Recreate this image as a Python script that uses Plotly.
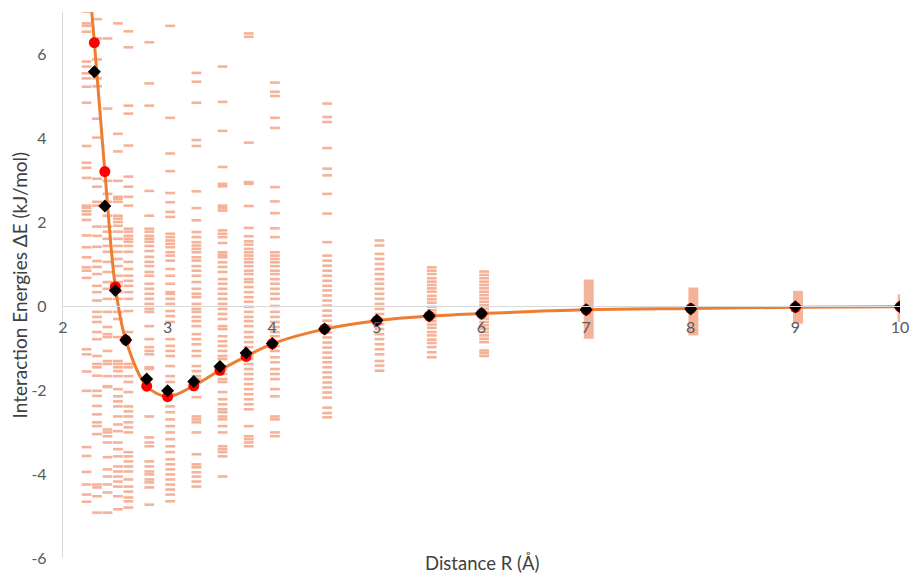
import plotly.graph_objects as go

# ---- data ----
dist_points = [2.3, 2.4, 2.5, 2.6, 2.8, 3.0, 3.25, 3.5, 3.75, 4.0, 4.5, 5.0, 5.5, 6.0, 7.0, 8.0, 9.0, 10.0]
energy_red = [6.27, 3.20, 0.46, -0.81, -1.91, -2.16, -1.90, -1.53, -1.20, -0.90, -0.55, -0.35, -0.24, -0.18, -0.09, -0.06, -0.03, -0.02]
energy_black = [5.58, 2.38, 0.37, -0.81, -1.74, -2.02, -1.80, -1.44, -1.12, -0.89, -0.55, -0.34, -0.23, -0.18, -0.09, -0.07, -0.02, -0.02]

# smooth fitted curve (starts above the visible range at the top-left)
curve_x = [2.22, 2.3, 2.4, 2.5, 2.6, 2.8, 3.0, 3.25, 3.5, 3.75, 4.0, 4.5, 5.0, 5.5, 6.0, 7.0, 8.0, 9.0, 10.0]
curve_y = [8.6, 6.27, 3.20, 0.46, -0.81, -1.91, -2.16, -1.90, -1.53, -1.20, -0.90, -0.55, -0.35, -0.24, -0.18, -0.09, -0.06, -0.03, -0.02]

# individual sample energies at each distance (short dashes)
d_2_2 = [7.01, 6.73, 6.67, 6.53, 5.82, 5.70, 5.54, 5.42, 5.22, 4.84, 3.81, 3.41, 3.29, 3.05, 2.39, 2.34, 2.26, 2.18, 2.05, 1.68, 1.40, 1.16, 0.92, 0.84, 0.67, -1.03, -1.15, -1.56, -2.02, -3.36, -3.57, -3.95, -4.25, -4.49, -4.66]
d_2_3 = [6.83, 6.37, 5.87, 5.42, 5.23, 4.46, 4.01, 3.03, 2.84, 2.48, 2.39, 1.89, 1.67, 1.41, 1.07, 0.93, 0.76, 0.48, 0.33, 0.13, -0.14, -0.26, -0.38, -0.62, -0.79, -1.19, -1.38, -1.46, -1.66, -2.02, -2.14, -2.38, -2.58, -2.77, -2.86, -3.05, -4.25, -4.32, -4.53, -4.92]
d_2_4 = [6.37, 4.70, 2.98, 2.67, 2.48, 2.15, 1.89, 1.77, 1.60, 1.43, 1.29, 1.05, 0.81, 0.57, 0.41, 0.17, -0.14, -0.50, -0.67, -0.74, -1.07, -1.31, -1.38, -1.67, -1.91, -1.93, -2.94, -3.01, -3.10, -3.25, -3.60, -3.89, -4.06, -4.25, -4.44, -4.92]
d_2_5 = [6.73, 4.10, 3.68, 2.98, 2.60, 2.55, 2.48, 2.15, 2.08, 2.00, 1.91, 1.77, 1.60, 1.43, 1.29, 1.12, 0.95, 0.72, 0.57, 0.48, 0.33, 0.17, -0.14, -0.31, -0.74, -1.31, -1.38, -1.46, -1.55, -1.67, -1.98, -2.15, -2.27, -2.39, -2.63, -2.82, -2.98, -3.25, -3.41, -3.58, -3.82, -3.94, -4.06, -4.18, -4.30, -4.53, -4.84]
d_2_6 = [6.54, 6.16, 4.77, 4.58, 3.82, 3.08, 2.84, 2.60, 2.39, 1.84, 1.77, 1.67, 1.60, 1.53, 1.43, 1.29, 1.05, 0.88, 0.72, 0.60, 0.48, 0.33, 0.17, -0.12, -0.62, -1.38, -1.46, -1.67, -1.81, -2.05, -2.39, -2.51, -2.63, -2.77, -2.89, -3.01, -3.48, -3.58, -3.70, -3.82, -3.94, -4.13, -4.30, -4.42, -4.56, -4.65, -4.80]
d_2_8 = [6.28, 5.30, 4.77, 2.74, 2.15, 1.84, 1.77, 1.67, 1.60, 1.53, 1.43, 1.31, 1.17, 1.05, 0.95, 0.81, 0.72, 0.53, 0.41, 0.29, 0.17, 0.05, -0.07, -0.14, -0.48, -0.79, -0.98, -1.07, -1.15, -1.46, -1.50, -2.63, -3.13, -3.25, -3.34, -3.70, -3.82, -3.94, -4.01, -4.13, -4.20, -4.32, -4.73]
d_3_0 = [6.67, 4.48, 3.63, 3.21, 2.69, 2.47, 2.24, 2.12, 1.72, 1.64, 1.56, 1.48, 1.40, 1.28, 1.20, 1.08, 0.88, 0.72, 0.53, 0.33, 0.29, 0.17, 0.05, -0.12, -0.24, -0.38, -0.79, -0.95, -1.07, -1.19, -1.43, -1.67, -1.81, -2.10, -2.39, -2.53, -2.70, -2.86, -3.01, -3.17, -3.34, -3.48, -3.65, -3.77, -3.89, -4.01, -4.13, -4.25, -4.37, -4.49, -4.65]
d_3_25 = [5.55, 5.34, 4.84, 3.95, 3.81, 2.73, 2.33, 2.04, 1.76, 1.64, 1.52, 1.44, 1.36, 1.28, 1.16, 1.08, 0.95, 0.84, 0.72, 0.57, 0.41, 0.29, 0.21, 0.05, -0.07, -0.14, -0.26, -0.36, -0.48, -0.67, -0.79, -0.91, -1.07, -1.19, -1.43, -1.55, -1.67, -1.74, -2.17, -2.63, -2.70, -2.77, -3.01, -3.53, -3.77, -3.84, -3.96, -4.06, -4.18, -4.30]
d_3_5 = [5.70, 4.86, 4.17, 3.31, 2.91, 2.85, 2.39, 2.33, 2.27, 1.80, 1.72, 1.64, 1.50, 1.28, 1.22, 1.16, 1.04, 0.93, 0.81, 0.64, 0.53, 0.41, 0.29, 0.17, 0.05, -0.07, -0.19, -0.31, -0.48, -0.55, -0.72, -0.84, -0.95, -1.07, -1.19, -1.26, -1.50, -1.62, -1.74, -1.81, -2.05, -2.22, -2.34, -2.46, -2.53, -2.63, -2.70, -2.86, -3.01, -3.34, -3.41, -3.48, -3.58, -4.06]
d_3_75 = [6.49, 6.41, 3.89, 2.95, 2.91, 2.38, 1.86, 1.66, 1.54, 1.46, 1.36, 1.28, 1.20, 1.12, 1.04, 0.95, 0.84, 0.76, 0.64, 0.57, 0.45, 0.33, 0.21, 0.10, -0.02, -0.14, -0.26, -0.36, -0.48, -0.62, -0.74, -0.86, -0.98, -1.19, -1.26, -1.38, -1.50, -1.62, -1.74, -1.86, -1.98, -2.10, -2.22, -2.34, -2.46, -2.86, -3.10, -3.17, -3.25, -3.34]
d_4_0 = [5.32, 5.10, 5.00, 4.48, 4.24, 2.83, 2.49, 2.21, 1.85, 1.64, 1.28, 1.20, 1.12, 1.04, 0.95, 0.84, 0.76, 0.64, 0.53, 0.41, 0.29, 0.17, 0.00, -0.14, -0.26, -0.38, -0.50, -0.62, -0.72, -0.95, -1.07, -1.22, -1.34, -1.50, -1.62, -1.74, -1.98, -2.15, -2.63, -2.70, -3.01, -3.10]
d_4_5 = [4.82, 4.50, 4.38, 3.76, 3.27, 3.11, 2.67, 2.20, 1.52, 1.20, 1.08, 0.96, 0.84, 0.72, 0.60, 0.48, 0.37, 0.25, 0.13, 0.01, -0.11, -0.23, -0.35, -0.47, -0.63, -0.75, -0.87, -0.99, -1.11, -1.23, -1.34, -1.46, -1.58, -1.70, -1.82, -1.94, -2.06, -2.18, -2.42, -2.55, -2.65]
d_5_0 = [1.56, 1.44, 1.24, 1.12, 1.00, 0.88, 0.76, 0.64, 0.53, 0.41, 0.29, 0.17, 0.05, -0.07, -0.19, -0.31, -0.43, -0.55, -0.67, -0.79, -0.91, -1.03, -1.15, -1.31, -1.42, -1.54]
d_5_5 = [0.92, 0.84, 0.76, 0.66, 0.58, 0.50, 0.42, 0.34, 0.24, 0.16, 0.08, -0.02, -0.10, -0.18, -0.28, -0.36, -0.44, -0.52, -0.62, -0.70, -0.80, -0.88, -0.98, -1.10, -1.22]
d_6_0 = [0.82, 0.74, 0.66, 0.58, 0.50, 0.42, 0.34, 0.26, 0.18, 0.10, 0.02, -0.06, -0.14, -0.22, -0.30, -0.38, -0.46, -0.54, -0.62, -0.70, -0.78, -0.86, -1.06, -1.12, -1.19]
d_7_0 = [0.60, 0.55, 0.50, 0.45, 0.40, 0.35, 0.30, 0.25, 0.20, 0.15, 0.10, 0.05, 0.00, -0.05, -0.10, -0.15, -0.20, -0.25, -0.30, -0.35, -0.40, -0.45, -0.50, -0.55, -0.60, -0.65, -0.70, -0.75]
d_8_0 = [0.41, 0.36, 0.31, 0.26, 0.21, 0.16, 0.11, 0.06, 0.01, -0.04, -0.09, -0.14, -0.19, -0.24, -0.29, -0.34, -0.39, -0.44, -0.49, -0.54, -0.59, -0.64, -0.67]
d_9_0 = [0.33, 0.28, 0.23, 0.18, 0.13, 0.08, 0.03, -0.02, -0.07, -0.12, -0.17, -0.22, -0.27, -0.32, -0.36, -0.39]
d_10_0 = [0.25, 0.20, 0.15, 0.10, 0.05, 0.00, -0.05, -0.10, -0.15, -0.20, -0.25, -0.30, -0.35]

sample_dists = [2.2, 2.3, 2.4, 2.5, 2.6, 2.8, 3.0, 3.25, 3.5, 3.75, 4.0, 4.5, 5.0, 5.5, 6.0, 7.0, 8.0, 9.0, 10.0]
sample_sets = [d_2_2, d_2_3, d_2_4, d_2_5, d_2_6, d_2_8, d_3_0, d_3_25, d_3_5, d_3_75, d_4_0,
               d_4_5, d_5_0, d_5_5, d_6_0, d_7_0, d_8_0, d_9_0, d_10_0]

x_ticks = [2, 3, 4, 5, 6, 7, 8, 9, 10]
y_ticks = [-6, -4, -2, 0, 2, 4, 6]
y_tick_labels = ["-6", "-4", "-2", "0", "2", "4", "6"]
Y_MIN, Y_MAX = -6, 7

# ---- build figure ----
DASH_SHIFT = 0.025
sx, sy = [], []
for d, vals in zip(sample_dists, sample_sets):
    for v in vals:
        sx.append(d + DASH_SHIFT)
        sy.append(v)

DASH_COLOR = "#F5B298"
fig = go.Figure()
fig.add_trace(go.Scatter(
    x=sx, y=sy, mode="markers",
    marker=dict(symbol="line-ew", size=7, color=DASH_COLOR,
                line=dict(color=DASH_COLOR, width=2.6)),
    hoverinfo="skip", showlegend=False))
fig.add_trace(go.Scatter(
    x=curve_x, y=curve_y, mode="lines",
    line=dict(color="#ED7D31", width=3, shape="spline", smoothing=0.9),
    showlegend=False))
fig.add_trace(go.Scatter(
    x=dist_points, y=energy_red, mode="markers",
    marker=dict(symbol="circle", size=11, color="#FF0000"),
    showlegend=False))
fig.add_trace(go.Scatter(
    x=dist_points, y=energy_black, mode="markers",
    marker=dict(symbol="diamond", size=10, color="#000000"),
    showlegend=False))

FONT = "Lato, Carlito, sans-serif"
tick_font = dict(family=FONT, size=16, color="#595959")
zero_pos = (0 - Y_MIN) / (Y_MAX - Y_MIN)

fig.update_layout(
    width=911, height=577,
    margin=dict(l=63, r=11, t=12, b=19, autoexpand=False),
    paper_bgcolor="white", plot_bgcolor="white",
    xaxis=dict(range=[2, 10], tickvals=x_ticks, ticktext=[str(t) for t in x_ticks],
               showgrid=False, zeroline=False, showline=True, linecolor="#D9D9D9", linewidth=1.3,
               anchor="free", position=zero_pos, ticks="", tickfont=tick_font,
               ticklabelstandoff=7, automargin=False),
    yaxis=dict(range=[Y_MIN, Y_MAX], tickvals=y_ticks, ticktext=y_tick_labels,
               showgrid=False, zeroline=False,
               showline=True, linecolor="#D9D9D9", linewidth=1.3, ticks="", tickfont=tick_font,
               ticklabelstandoff=12, automargin=False),
    annotations=[
        dict(text="Distance R (Å)", xref="paper", yref="paper", x=0.5, y=-0.0325,
             xanchor="center", yanchor="bottom", showarrow=False,
             font=dict(family=FONT, size=18.5, color="#404040")),
        dict(text="Interaction Energies ΔE (kJ/mol)", xref="paper", yref="paper",
             x=-0.052, y=0.5, textangle=-90, xanchor="center", yanchor="middle",
             showarrow=False,
             font=dict(family=FONT, size=19, color="#404040")),
    ],
)

fig.write_html("out.html", config={"displayModeBar": False},
               post_script="document.body.style.margin='0';document.body.style.overflow='hidden';")
